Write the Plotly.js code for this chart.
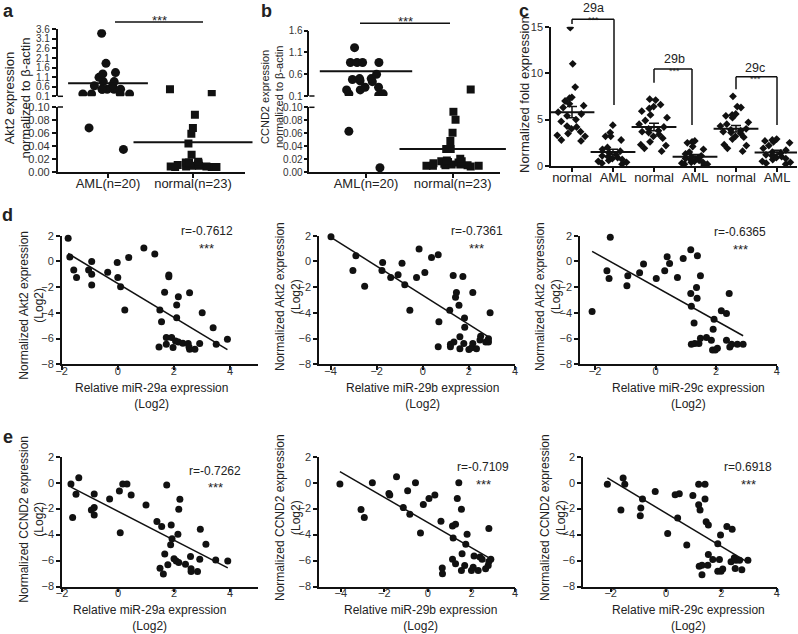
<!DOCTYPE html>
<html><head><meta charset="utf-8">
<script src="https://cdn.plot.ly/plotly-3.0.1.min.js"></script>
<style>html,body{margin:0;padding:0;background:#fff}#chart{width:798px;height:634px}</style>
</head><body><div id="chart"></div>
<script>
// ---------------- DATA ----------------
// Panel a: Akt2 expression normalized to beta-actin (broken axis: <=0.1 lower, >0.1 upper)
const abGroups = ['AML(n=20)', 'normal(n=23)'];
const aAmlHigh = [3.39, 1.82, 1.34, 1.27, 1.09, 0.87, 0.87, 0.7, 0.65, 0.47, 0.47, 0.47, 0.47, 0.47, 0.22, 0.22, 0.22, 0.22];
const aAmlLow = [0.068, 0.035];
const aNorHigh = [0.47, 0.22];
const aNorLow = [0.088, 0.068, 0.059, 0.044, 0.027, 0.016, 0.015, 0.015, 0.014, 0.013, 0.012, 0.011, 0.011, 0.010, 0.010, 0.009, 0.009, 0.009, 0.008, 0.008, 0.008];
const aMeans = [0.78, 0.046];
const aUpperTicks = [0.1, 0.6, 1.1, 1.6, 2.1, 2.6, 3.1, 3.6];
const lowerTicks = [0, 0.02, 0.04, 0.06, 0.08, 0.10];

// Panel b: CCND2 expression normalized to beta-actin
const bAmlHigh = [1.21, 0.87, 0.87, 0.87, 0.87, 0.6, 0.5, 0.5, 0.48, 0.45, 0.43, 0.3, 0.3, 0.24, 0.24, 0.15, 0.15, 0.12];
const bAmlLow = [0.063, 0.007];
const bNorHigh = [0.25];
const bNorLow = [0.093, 0.081, 0.061, 0.048, 0.036, 0.036, 0.021, 0.018, 0.017, 0.017, 0.016, 0.015, 0.014, 0.013, 0.012, 0.012, 0.011, 0.011, 0.010, 0.010, 0.010, 0.009];
const bMeans = [0.67, 0.036];
const bUpperTicks = [0.1, 0.6, 1.1, 1.6];

// Panel c: normalized fold expression of miR-29a/b/c
const cLabels = ['normal', 'AML', 'normal', 'AML', 'normal', 'AML'];
const cNormal29a = [14.9, 11.0, 8.5, 7.4, 7.3, 7.0, 6.7, 6.5, 6.3, 5.8, 5.6, 5.4, 5.0, 4.8, 4.3, 4.2, 4.0, 3.7, 3.5, 3.3, 3.2, 2.8, 2.7];
const cAml29a = [4.4, 3.6, 3.2, 3.2, 2.8, 2.0, 1.8, 1.6, 1.4, 1.2, 1.1, 1.0, 0.9, 0.8, 0.7, 0.6, 0.5, 0.4, 0.3, 0.2];
const cNormal29b = [7.2, 7.1, 6.6, 6.4, 6.2, 5.9, 5.5, 5.2, 4.9, 4.5, 4.2, 4.0, 3.8, 3.7, 3.6, 3.4, 3.2, 3.0, 2.6, 2.3, 2.2, 1.9, 1.6];
const cAml29b = [2.7, 2.6, 2.5, 2.1, 1.8, 1.5, 1.3, 1.1, 1.0, 0.9, 0.8, 0.7, 0.6, 0.5, 0.4, 0.4, 0.3, 0.2, 0.2, 0.1];
const cNormal29c = [7.5, 6.4, 6.3, 5.6, 5.5, 5.4, 5.2, 4.7, 4.5, 4.3, 4.0, 3.9, 3.8, 3.7, 3.6, 3.5, 3.2, 3.1, 2.9, 2.3, 2.2, 1.9, 1.6];
const cAml29c = [2.9, 2.8, 2.7, 2.6, 2.5, 2.2, 1.9, 1.7, 1.5, 1.4, 1.2, 1.1, 1.0, 0.9, 0.8, 0.7, 0.5, 0.4, 0.3, 0.2];
const cMeans = [5.8, 1.5, 4.2, 1.0, 4.0, 1.45];
const cSEM = [0.6, 0.3, 0.4, 0.25, 0.35, 0.25];
const cTicks = [0, 5, 10, 15];

// Panel d: Akt2 (Log2) vs miR-29a/b/c (Log2)
const d1x = [-1.77, -1.71, -1.57, -1.47, -1.04, -0.93, -0.93, -0.93, -0.36, -0.02, 0.0, 0.10, 0.25, 0.39, 0.93, 1.32, 1.47, 1.50, 1.56, 1.67, 1.82, 1.82, 2.16, 2.10, 2.10, 1.73, 1.73, 1.92, 1.97, 2.06, 2.16, 2.32, 2.51, 2.56, 2.56, 2.75, 2.54, 2.92, 3.01, 3.40, 3.51, 3.91];
const d1y = [1.8, 0.35, -0.66, -1.26, -0.66, -0.01, -0.99, -1.83, -0.84, -0.08, -1.26, -1.96, -3.78, 0.31, 1.04, 0.57, -6.65, -3.78, -4.69, -2.4, -1.05, -1.2, -2.74, -3.39, -4.38, -5.92, -6.44, -5.92, -6.70, -6.18, -6.26, -6.36, -6.39, -2.43, -6.83, -6.83, -6.65, -6.39, -3.99, -5.16, -6.44, -6.05];
const d2x = [-3.98, -2.90, -3.03, -2.52, -1.74, -1.77, -1.39, -1.07, -0.90, -0.78, -0.56, -0.27, -0.16, 0.09, 0.38, 0.67, 0.70, 0.67, 1.17, 1.20, 1.20, 1.32, 1.35, 1.42, 1.46, 1.57, 1.61, 1.61, 1.74, 1.78, 1.81, 1.82, 2.0, 2.12, 2.17, 2.17, 2.33, 2.48, 2.51, 2.73, 2.85, 2.85, 2.92];
const d2y = [1.92, 0.45, -0.71, -1.94, -0.09, -0.71, -1.25, -1.04, -0.14, -1.81, -3.8, -1.25, 0.97, -0.86, 0.30, 0.51, -4.70, -6.63, -3.8, -6.45, -6.63, -1.09, -6.27, -2.79, -2.41, -3.41, -5.86, -6.79, -1.17, -6.38, -4.39, -5.11, -6.84, -6.71, -2.41, -6.38, -6.79, -6.12, -5.81, -6.27, -6.27, -6.02, -4.0];
const d3x = [-2.10, -1.50, -1.61, -1.54, -0.92, -0.95, -0.53, -0.40, 0.02, 0.30, 0.38, 0.46, 0.72, 0.91, 1.16, 1.16, 1.18, 1.18, 1.29, 1.27, 1.38, 1.35, 1.37, 1.43, 1.48, 1.48, 1.68, 1.84, 1.88, 1.90, 1.93, 1.97, 2.04, 2.17, 2.34, 2.34, 2.43, 2.45, 2.51, 2.70, 2.89];
const d3y = [-3.90, 1.87, -0.73, -1.32, -1.12, -1.9, -0.88, -0.21, -1.32, -0.73, 0.36, -0.16, -1.25, 0.23, 0.91, -2.49, -3.48, -6.44, -6.39, -4.78, 0.44, -2.03, -2.86, -6.39, -1.12, -5.97, -5.92, -6.13, -6.88, -5.27, -4.49, -6.88, -6.75, -3.84, -4.05, -6.13, -2.49, -6.65, -6.44, -6.44, -6.44];
const dR = ['r=-0.7612', 'r=-0.7361', 'r=-0.6365'];

// Panel e: CCND2 (Log2) vs miR-29a/b/c (Log2)
const e1x = [-1.68, -1.62, -1.40, -1.50, -0.95, -0.85, -0.85, -0.85, -0.30, 0.05, 0.17, 0.32, 0.08, 0.47, 1.0, 1.39, 1.56, 1.74, 1.90, 1.88, 1.67, 1.50, 1.62, 1.78, 1.93, 2.0, 2.08, 2.17, 2.14, 2.17, 2.21, 2.41, 2.59, 2.61, 2.61, 2.84, 2.92, 2.94, 3.14, 3.49, 3.92];
const e1y = [-0.10, -2.69, 0.38, -0.90, -2.10, -1.92, -0.87, -2.49, -1.26, -0.64, -0.10, -0.10, -3.85, -0.95, -1.72, -3.0, -3.38, -0.18, -3.26, -4.79, -5.49, -6.59, -7.03, -6.33, -4.33, -5.87, -6.03, -6.15, -3.97, -2.05, -1.28, -6.28, -5.69, -6.64, -6.85, -6.85, -5.90, -3.59, -4.74, -5.95, -6.03];
const e2x = [-4.04, -3.07, -2.92, -2.55, -1.79, -1.75, -1.44, -1.13, -0.93, -0.83, -0.57, -0.34, -0.21, 0.05, 0.32, 0.60, 0.66, 0.67, 1.13, 1.27, 1.16, 1.13, 1.27, 1.35, 1.42, 1.54, 1.57, 1.54, 1.74, 1.69, 1.80, 2.0, 2.08, 2.12, 2.31, 2.39, 2.49, 2.65, 2.77, 2.80, 2.80, 2.89];
const e2y = [-0.11, -2.07, -2.69, 0.0, -0.84, -0.96, 0.45, -1.92, -0.63, -2.43, 0.0, -3.88, -1.69, -1.22, -0.96, -2.97, -6.58, -7.02, -3.34, -3.21, -4.26, -5.91, -6.25, -1.22, 0.0, -2.05, -5.47, -6.76, -4.75, -6.38, -3.98, -6.76, -6.51, -5.65, -6.76, -5.73, -5.91, -6.63, -6.38, -6.07, -3.54, -5.91];
const e3x = [-2.12, -1.55, -1.49, -1.63, -0.91, -0.93, -0.85, -0.39, 0.06, 0.33, 0.48, 0.42, 0.75, 0.97, 1.18, 1.18, 1.23, 1.20, 1.30, 1.30, 1.41, 1.41, 1.45, 1.53, 1.51, 1.53, 1.69, 1.87, 1.93, 1.97, 1.87, 1.99, 2.05, 2.20, 2.39, 2.35, 2.47, 2.53, 2.50, 2.66, 2.74, 2.96];
const e3y = [-0.13, 0.36, -0.13, -2.10, -1.95, -2.55, -1.25, -0.68, -3.92, -0.94, -0.86, -2.73, -4.81, -0.99, -0.13, -1.71, -2.10, -6.44, -6.36, -7.09, -0.13, -1.25, -3.01, -3.27, -6.36, -5.53, -5.92, -4.70, -5.92, -4.03, -6.83, -6.83, -6.65, -3.38, -3.58, -6.10, -5.79, -5.97, -6.62, -5.97, -6.70, -5.97];
const eR = ['r=-0.7262', 'r=-0.7109', 'r=0.6918'];
const scatterYTicks = [-8, -6, -4, -2, 0, 2];
const mirNames = ['miR-29a', 'miR-29b', 'miR-29c'];

// ---------------- STYLE / LAYOUT HELPERS ----------------
const W = 798, H = 634;
const FONT = 'Liberation Sans, Arial, Helvetica, sans-serif';
const INK = '#111';
const X = p => p / W;
const Y = p => 1 - p / H;
const hd = (a, b) => [X(a), X(b)];
const vd = (top, bottom) => [Y(bottom), Y(top)];
function rng(d0, d1, p0, v0, p1, v1) {
  const u = (p1 - p0) / (v1 - v0);
  return [v0 - (p0 - d0) / u, v0 + (d1 - p0) / u];
}
const base = {showline: true, linecolor: INK, linewidth: 1.5, ticks: 'outside', ticklen: 4, tickwidth: 1.5,
  tickcolor: INK, showgrid: false, zeroline: false, fixedrange: true, type: 'linear',
  tickfont: {family: FONT, size: 11, color: '#333'}};
function ax(o) {
  return Object.assign({}, base, o, {tickfont: Object.assign({}, base.tickfont, o.tickfont || {})});
}

const traces = [];
function swarm(vals, pos, xa, ya, sym, size, width) {
  return {type: 'box', x0: pos, y: vals, xaxis: xa, yaxis: ya, boxpoints: 'all', jitter: 1, pointpos: 0,
    width: width, fillcolor: 'rgba(0,0,0,0)', line: {color: 'rgba(0,0,0,0)', width: 0},
    marker: {color: INK, size: size, symbol: sym}, showlegend: false, hoverinfo: 'y'};
}
function meanMark(pos, m, xa, yaLow, yaHigh, w) {
  return {type: 'scatter', mode: 'markers', x: [pos], y: [m], xaxis: xa, yaxis: m > 0.1 ? yaHigh : yaLow,
    marker: {symbol: 'line-ew', size: w, color: INK, line: {width: 2, color: INK}}, showlegend: false,
    cliponaxis: false, hoverinfo: 'y'};
}

// Panel a
traces.push(swarm(aAmlHigh, 0, 'x', 'y2', 'circle', 9, 0.7));
traces.push(swarm(aAmlLow, 0, 'x', 'y', 'circle', 9, 0.7));
traces.push(swarm(aNorHigh, 1, 'x', 'y2', 'square', 8, 0.85));
traces.push(swarm(aNorLow, 1, 'x', 'y', 'square', 8, 0.85));
traces.push(meanMark(0, aMeans[0], 'x', 'y', 'y2', 57));
traces.push(meanMark(1, aMeans[1], 'x', 'y', 'y2', 85));
// Panel b
traces.push(swarm(bAmlHigh, 0, 'x2', 'y4', 'circle', 9, 0.62));
traces.push(swarm(bAmlLow, 0, 'x2', 'y3', 'circle', 9, 0.62));
traces.push(swarm(bNorHigh, 1, 'x2', 'y4', 'square', 8, 0.8));
traces.push(swarm(bNorLow, 1, 'x2', 'y3', 'square', 8, 0.8));
traces.push(meanMark(0, bMeans[0], 'x2', 'y3', 'y4', 66));
traces.push(meanMark(1, bMeans[1], 'x2', 'y3', 'y4', 76));
// Panel c
[cNormal29a, cAml29a, cNormal29b, cAml29b, cNormal29c, cAml29c].forEach((g, i) => {
  traces.push(swarm(g, i, 'x3', 'y5', 'diamond', 6, 0.85));
});
traces.push({type: 'scatter', mode: 'markers', x: cLabels.map((_, i) => i), y: cMeans, xaxis: 'x3', yaxis: 'y5',
  marker: {symbol: 'line-ew', size: 32, color: INK, line: {width: 2, color: INK}},
  error_y: {type: 'data', array: cSEM, visible: true, color: INK, thickness: 1.5, width: 5},
  showlegend: false, hoverinfo: 'y'});

// Panels d, e
function fit(xs, ys) {
  const n = xs.length;
  const mx = xs.reduce((a, b) => a + b, 0) / n, my = ys.reduce((a, b) => a + b, 0) / n;
  let sxy = 0, sxx = 0;
  for (let i = 0; i < n; i++) { sxy += (xs[i] - mx) * (ys[i] - my); sxx += (xs[i] - mx) ** 2; }
  const b = sxy / sxx, a = my - b * mx;
  const x0 = Math.min(...xs), x1 = Math.max(...xs);
  return {x: [x0, x1], y: [a + b * x0, a + b * x1]};
}
const scatSets = [[d1x, d1y], [d2x, d2y], [d3x, d3y], [e1x, e1y], [e2x, e2y], [e3x, e3y]];
scatSets.forEach((s, i) => {
  const xa = 'x' + (i + 4), ya = 'y' + (i + 6);
  const f = fit(s[0], s[1]);
  traces.push({type: 'scatter', mode: 'lines', x: f.x, y: f.y, xaxis: xa, yaxis: ya,
    line: {color: INK, width: 1.5}, showlegend: false, hoverinfo: 'skip'});
  traces.push({type: 'scatter', mode: 'markers', x: s[0], y: s[1], xaxis: xa, yaxis: ya,
    marker: {size: 7, color: INK}, showlegend: false, cliponaxis: false});
});

// ---------------- AXES ----------------
const layout = {
  width: W, height: H, margin: {l: 0, r: 0, t: 0, b: 0}, showlegend: false,
  paper_bgcolor: '#fff', plot_bgcolor: 'rgba(0,0,0,0)',
  font: {family: FONT, color: '#222'},
  xaxis: ax({domain: hd(57.7, 245), range: rng(57.7, 245, 108, 0, 193, 1), anchor: 'y',
    tickvals: [0, 1], ticktext: abGroups, tickfont: {size: 13, color: '#222'}, ticklabelstandoff: -6}),
  yaxis: ax({domain: vd(107, 172.3), range: [0, 0.1], anchor: 'x', tickvals: lowerTicks, tickformat: '.2f'}),
  yaxis2: ax({domain: vd(29.3, 96.3), range: [0.1, 3.6], anchor: 'x', tickvals: aUpperTicks, tickformat: '.1f',
    tickfont: {size: 10}}),
  xaxis2: ax({domain: hd(309.3, 500), range: rng(309.3, 500, 366, 0, 452.7, 1), anchor: 'y3',
    tickvals: [0, 1], ticktext: abGroups, tickfont: {size: 13, color: '#222'}, ticklabelstandoff: -6}),
  yaxis3: ax({domain: vd(107.3, 172.3), range: [0, 0.1], anchor: 'x2', tickvals: lowerTicks, tickformat: '.2f',
    tickfont: {size: 10}, ticklabelstandoff: -1}),
  yaxis4: ax({domain: vd(30.7, 96), range: [0.1, 1.6], anchor: 'x2', tickvals: bUpperTicks, tickformat: '.1f',
    tickfont: {size: 10}, ticklabelstandoff: -1}),
  xaxis3: ax({domain: hd(551, 797), range: rng(551, 797, 572, 0, 777, 5), anchor: 'y5',
    tickvals: cLabels.map((_, i) => i), ticktext: cLabels, tickfont: {size: 13, color: '#222'}, ticklabelstandoff: -5}),
  yaxis5: ax({domain: vd(26.7, 166), range: [0, 15], anchor: 'x3', tickvals: cTicks})
};
const scatX = [
  {d: [61.7, 258], r: [-2, 5], t: [-2, 0, 2, 4]},
  {d: [319, 515], r: [-4.5, 4], t: [-4, -2, 0, 2, 4]},
  {d: [580, 776.7], r: [-2.5, 4], t: [-2, 0, 2, 4]},
  {d: [62, 258], r: [-2, 5], t: [-2, 0, 2, 4]},
  {d: [319, 515], r: [-5, 4], t: [-4, -2, 0, 2, 4]},
  {d: [583, 776.7], r: [-3, 4], t: [-2, 0, 2, 4]}
];
scatX.forEach((s, i) => {
  const rowTop = i < 3 ? 235.7 : 456.7, rowBot = i < 3 ? 364.3 : 586.5;
  layout['xaxis' + (i + 4)] = ax({domain: hd(s.d[0], s.d[1]), range: s.r, anchor: 'y' + (i + 6), tickvals: s.t,
    ticklabelstandoff: -8});
  layout['yaxis' + (i + 6)] = ax({domain: vd(rowTop, rowBot), range: [-8, 2], anchor: 'x' + (i + 4), tickvals: scatterYTicks});
});

// ---------------- TEXT ----------------
function ann(text, x, y, size, extra) {
  return Object.assign({text: text, x: X(x), y: Y(y), xref: 'paper', yref: 'paper', showarrow: false,
    xanchor: 'center', yanchor: 'middle', font: {family: FONT, size: size, color: '#222'}}, extra || {});
}
const rot = {textangle: -90};
const A = [
  ann('<b>a</b>', 8, 11, 18), ann('<b>b</b>', 266, 11, 18), ann('<b>c</b>', 524, 11, 18),
  ann('<b>d</b>', 7, 215, 18), ann('<b>e</b>', 8, 437, 18),
  ann('Akt2 expression<br>normalized to β-actin', 17.5, 98, 13, rot),
  ann('CCND2 expression<br>normalized to β-actin', 272, 97, 11, rot),
  ann('Normalized fold expression', 525, 95, 13, rot),
  ann('***', 159, 20, 13), ann('***', 405, 21, 13),
  ann('29a', 593, 7.5, 12.5), ann('***', 593, 19.5, 9),
  ann('29b', 674, 59.5, 12.5), ann('***', 674, 71, 9),
  ann('29c', 755, 67.5, 12.5), ann('***', 755, 78.5, 9)
];
const dTitleX = [151, 422, 688], eTitleX = [149, 420, 688];
const dYT = [[31.7, 305], [288, 297], [548, 297]], eYT = [[31.7, 519], [288, 518], [553, 518]];
const dRpos = [[206.7, 231], [476.7, 231], [740, 232]], eRpos = [[215, 470.7], [483, 467.3], [748, 467.3]];
for (let i = 0; i < 3; i++) {
  A.push(ann('Relative ' + mirNames[i] + ' expression<br>(Log2)', dTitleX[i], 396, 12));
  A.push(ann('Relative ' + mirNames[i] + ' expression<br>(Log2)', eTitleX[i], 618, 12));
  A.push(ann('Normalized Akt2 expression<br>(Log2)', dYT[i][0], dYT[i][1], 12, rot));
  A.push(ann('Normalized CCND2 expression<br>(Log2)', eYT[i][0], eYT[i][1], 12, rot));
  A.push(ann(dR[i], dRpos[i][0], dRpos[i][1], 12));
  A.push(ann('***', dRpos[i][0], dRpos[i][1] + 17, 13));
  A.push(ann(eR[i], eRpos[i][0], eRpos[i][1], 12));
  A.push(ann('***', eRpos[i][0], eRpos[i][1] + 17, 13));
}
layout.annotations = A;

// ---------------- DECORATION LINES ----------------
function seg(x0, y0, x1, y1) {
  return {type: 'line', xref: 'paper', yref: 'paper', x0: X(x0), y0: Y(y0), x1: X(x1), y1: Y(y1),
    line: {color: INK, width: 1.5}};
}
layout.shapes = [
  seg(115, 22, 203, 22), seg(360, 23.3, 450, 23.3),
  seg(572, 24, 572, 19.3), seg(572, 19.3, 614, 19.3), seg(614, 19.3, 614, 105),
  seg(654, 82.7, 654, 69), seg(654, 69, 692, 69), seg(692, 69, 692, 125),
  seg(736, 89.3, 736, 76.7), seg(736, 76.7, 777, 76.7), seg(777, 76.7, 777, 125),
  seg(57.7, 96.3, 63, 96.3), seg(57.7, 107, 63, 107),
  seg(309.3, 96, 314.5, 96), seg(309.3, 107.3, 314.5, 107.3)
];

Plotly.newPlot('chart', traces, layout, {displayModeBar: false, responsive: false});
</script></body></html>
